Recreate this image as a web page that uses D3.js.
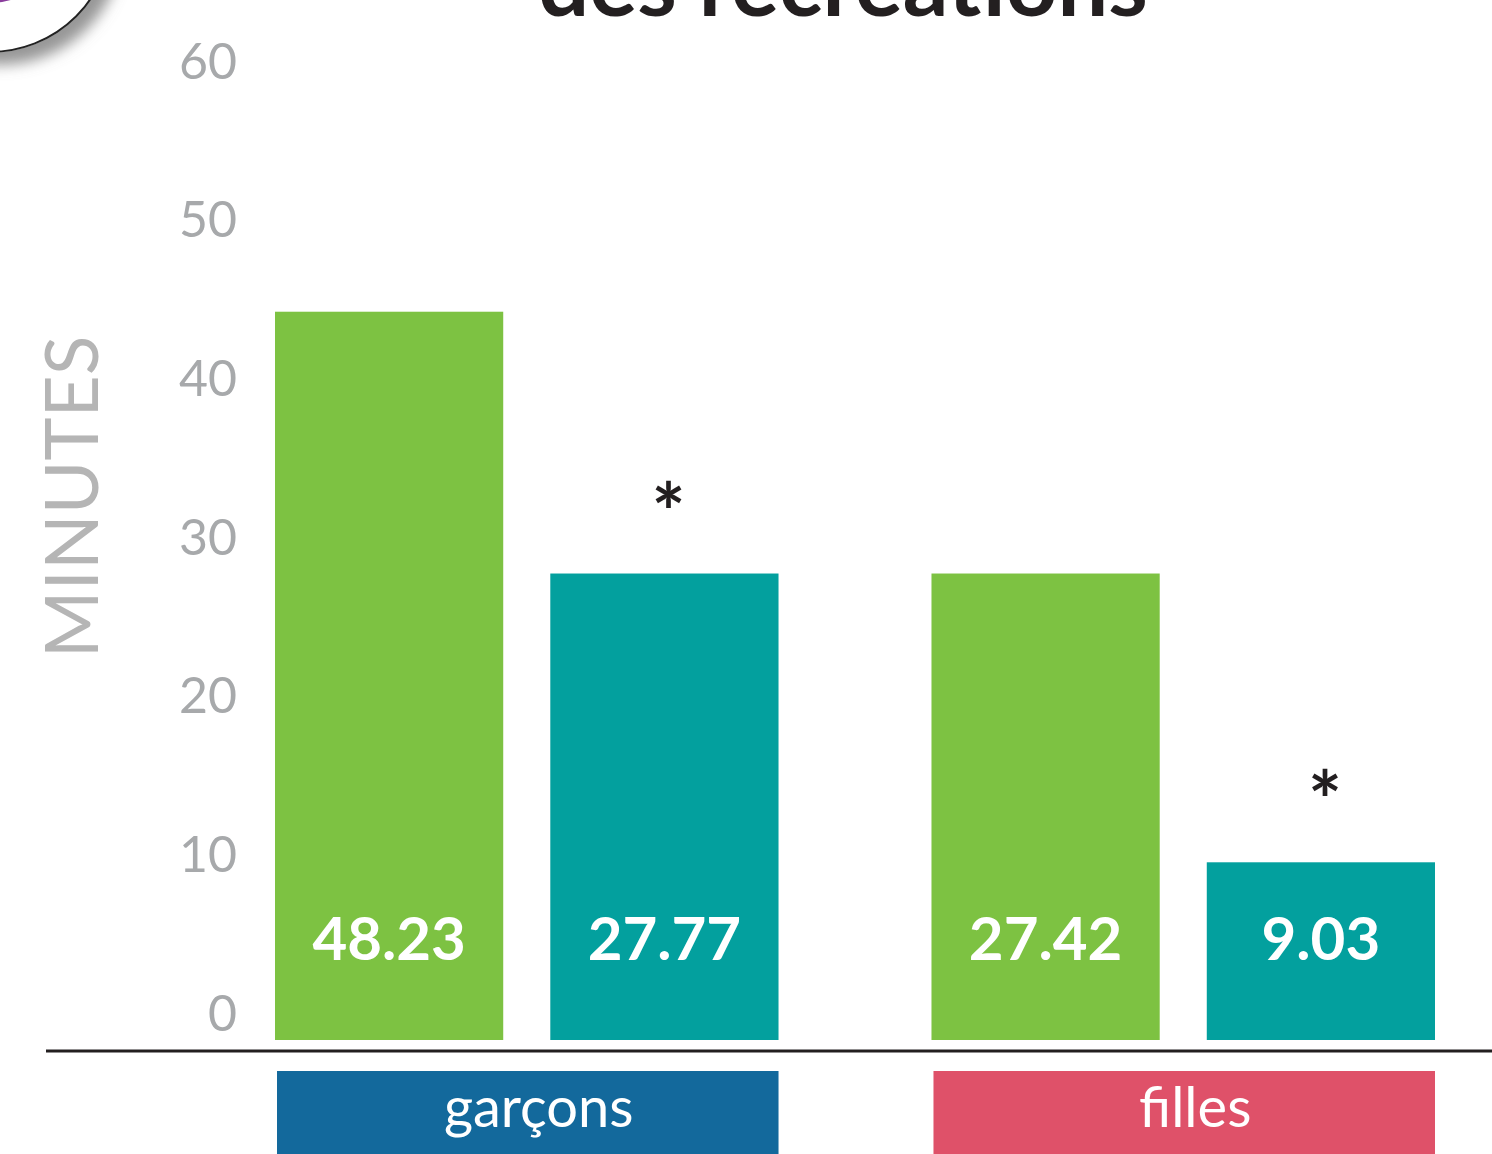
<!DOCTYPE html>
<html>
<head>
<meta charset="utf-8">
<script src="https://cdn.jsdelivr.net/npm/d3@7"></script>
<style>
  body { margin: 0; background: #fff; }
  svg { display: block; }
</style>
</head>
<body>
<script>
// data
const groups = ['garçons', 'filles'];
const series = ['A', 'B'];
const groupColors = ['#13699c', '#df5169'];
const seriesColors = ['#7dc242', '#03a09e'];
// printed values on the bars
const valueLabels = [['48.23', '27.77'], ['27.42', '9.03']];
// bar heights as drawn against the minutes axis
const barMinutes = [[45.9, 29.4], [29.4, 11.2]];
const significant = [[false, true], [false, true]];
const yTicks = [0, 10, 20, 30, 40, 50, 60];

const width = 1492;
const height = 1154;

const svg = d3.select('body')
    .append('svg')
    .attr('width', width)
    .attr('height', height);

const defs = svg.append('defs');
defs.append('filter')
    .attr('id', 'shadow')
    .attr('x', '-50%').attr('y', '-50%')
    .attr('width', '200%').attr('height', '200%')
    .append('feDropShadow')
    .attr('dx', 10).attr('dy', 12)
    .attr('stdDeviation', 7)
    .attr('flood-color', '#8c8c8c')
    .attr('flood-opacity', 0.9);

// decorative badge cut off in the corner
svg.append('circle')
    .attr('cx', -10).attr('cy', -70).attr('r', 122)
    .attr('fill', '#fff')
    .attr('stroke', '#222')
    .attr('stroke-width', 2)
    .attr('filter', 'url(#shadow)');
svg.append('circle')
    .attr('cx', -10).attr('cy', -70).attr('r', 73)
    .attr('fill', '#8a3d9c');

// title, clipped at the top like the source
svg.append('text')
    .attr('x', 843)
    .attr('y', 16)
    .attr('text-anchor', 'middle')
    .style('font-family', 'Lato, sans-serif')
    .style('font-weight', 700)
    .style('font-size', '90px')
    .attr('fill', '#231f20')
    .text('des récréations');

const y = d3.scaleLinear()
    .domain([0, 60])
    .range([1040, 88]);

const x0 = d3.scaleBand()
    .domain(groups)
    .range([275, 1435])
    .paddingInner(0.233);

const x1 = d3.scaleBand()
    .domain(series)
    .range([0, x0.bandwidth()])
    .paddingInner(0.171);

// y axis
const yAxis = svg.append('g')
    .attr('transform', 'translate(237,0)')
    .call(d3.axisLeft(y).tickValues(yTicks).tickSize(0).tickPadding(0));
yAxis.select('.domain').remove();
yAxis.selectAll('text')
    .attr('dy', '-0.2em')
    .attr('y', 0)
    .attr('fill', '#a7a9ab')
    .style('font-family', 'Lato, sans-serif')
    .style('font-size', '50px');

svg.append('text')
    .attr('transform', 'translate(98,497) rotate(-90)')
    .attr('text-anchor', 'middle')
    .attr('fill', '#b5b5b5')
    .style('font-family', 'Lato, sans-serif')
    .style('font-size', '73px')
    .text('MINUTES');

// bars
const cells = groups.flatMap((g, gi) => series.map((s, si) => ({
    group: g,
    serie: s,
    si,
    minutes: barMinutes[gi][si],
    label: valueLabels[gi][si],
    star: significant[gi][si]
})));

const bar = svg.selectAll('g.bar')
    .data(cells)
    .join('g')
    .attr('class', 'bar')
    .attr('transform', d => `translate(${x0(d.group) + x1(d.serie)},0)`);

bar.append('rect')
    .attr('y', d => y(d.minutes))
    .attr('width', x1.bandwidth())
    .attr('height', d => y(0) - y(d.minutes))
    .attr('fill', d => seriesColors[d.si]);

bar.append('text')
    .attr('x', x1.bandwidth() / 2)
    .attr('y', 960)
    .attr('text-anchor', 'middle')
    .attr('fill', '#fff')
    .style('font-family', 'Lato, sans-serif')
    .style('font-weight', 700)
    .style('font-size', '60px')
    .text(d => d.label);

bar.filter(d => d.star)
    .append('text')
    .attr('x', x1.bandwidth() / 2 + 4)
    .attr('y', d => y(d.minutes) - 32)
    .attr('text-anchor', 'middle')
    .attr('fill', '#231f20')
    .style('font-family', 'Lato, sans-serif')
    .style('font-weight', 700)
    .style('font-size', '80px')
    .text('*');

// baseline
svg.append('line')
    .attr('x1', 46).attr('x2', width)
    .attr('y1', 1051).attr('y2', 1051)
    .attr('stroke', '#231f20')
    .attr('stroke-width', 3);

// group labels
const cat = svg.selectAll('g.cat')
    .data(groups)
    .join('g')
    .attr('class', 'cat')
    .attr('transform', d => `translate(${x0(d) + 2},1071)`);

cat.append('rect')
    .attr('width', x0.bandwidth() - 2)
    .attr('height', 83)
    .attr('fill', (d, i) => groupColors[i]);

cat.append('text')
    .attr('x', x0.bandwidth() / 2 + 10)
    .attr('y', 56)
    .attr('text-anchor', 'middle')
    .attr('fill', '#fff')
    .style('font-family', 'Lato, sans-serif')
    .style('font-size', '56px')
    .text(d => d);
</script>
</body>
</html>
